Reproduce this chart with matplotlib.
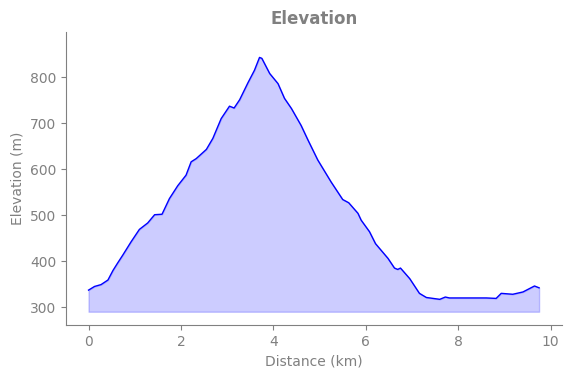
import matplotlib
matplotlib.use("Agg")
from matplotlib import pyplot as plt

# 距離(km)と標高(m)
dist = [0.00, 0.13, 0.27, 0.42, 0.53, 0.63, 0.74, 0.92, 1.10, 1.28, 1.43, 1.59,
        1.75, 1.93, 2.11, 2.22, 2.33, 2.55, 2.69, 2.87, 3.05, 3.15, 3.27, 3.45,
        3.59, 3.70, 3.75, 3.92, 4.10, 4.24, 4.39, 4.60, 4.75, 4.96, 5.25, 5.50,
        5.63, 5.83, 5.90, 6.08, 6.21, 6.48, 6.62, 6.69, 6.75, 6.95, 7.16, 7.31,
        7.60, 7.72, 7.81, 8.17, 8.61, 8.82, 8.93, 9.18, 9.40, 9.65, 9.75]
elev = [337, 345, 349, 359, 380, 396, 413, 442, 469, 483, 501, 502,
        536, 564, 587, 616, 623, 643, 667, 710, 737, 733, 751, 788,
        815, 843, 841, 808, 786, 754, 732, 695, 663, 620, 572, 534,
        527, 504, 489, 464, 438, 406, 385, 382, 385, 362, 330, 321,
        317, 322, 320, 320, 320, 319, 330, 328, 333, 346, 342]
base = 290

grey = "grey"
plt.rcParams["text.color"] = grey
plt.rcParams["axes.labelcolor"] = grey
plt.rcParams["xtick.color"] = grey
plt.rcParams["ytick.color"] = grey
plt.rcParams["axes.edgecolor"] = grey

fig = plt.figure(figsize=(5.71, 3.78), dpi=100)
ax = fig.add_axes([0.1156, 0.140, 0.868, 0.775])

ax.fill_between(dist, elev, base, color="blue", alpha=0.2)
ax.plot(dist, elev, color="blue", linewidth=1)

ax.set_ylim(261, 898)
ax.set_xticks([0, 2, 4, 6, 8, 10])
ax.set_yticks([300, 400, 500, 600, 700, 800])
ax.set_title("Elevation", fontsize=12, fontweight="bold", color=grey)
ax.set_xlabel("Distance (km)")
ax.set_ylabel("Elevation (m)")
ax.spines["top"].set_visible(False)
ax.spines["right"].set_visible(False)

plt.savefig("out.png")
